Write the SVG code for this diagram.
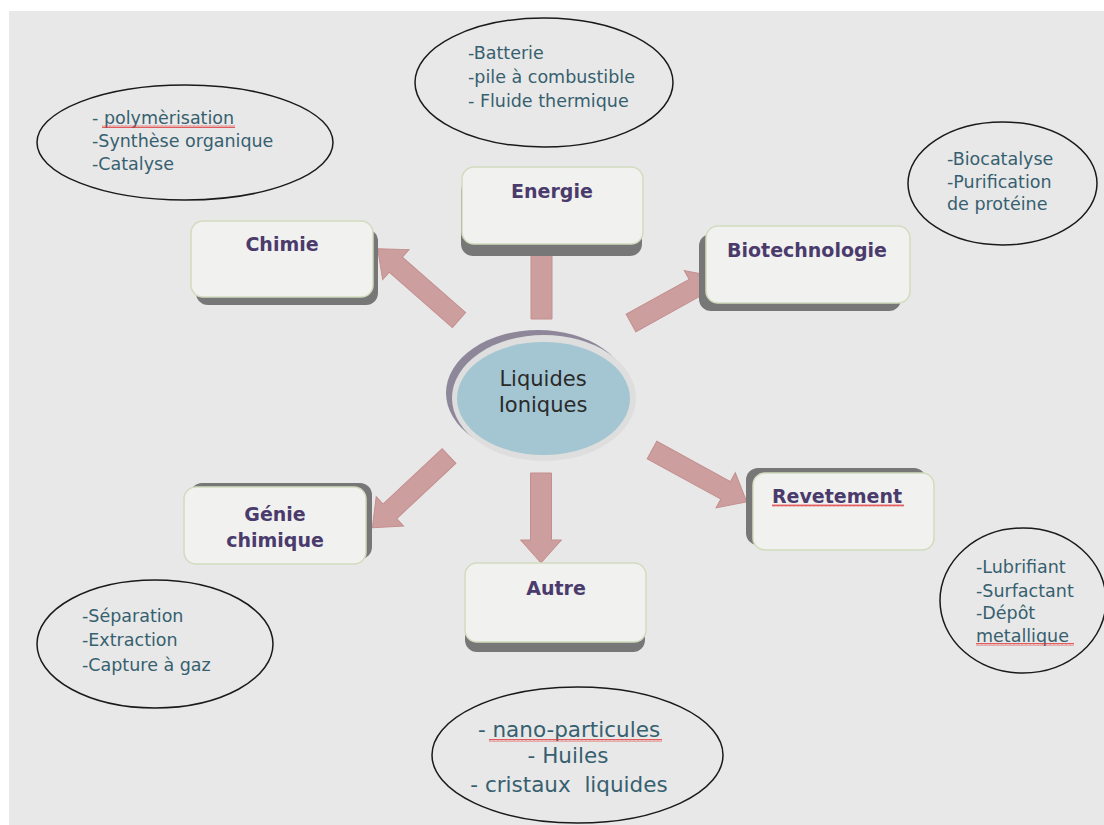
<svg xmlns="http://www.w3.org/2000/svg" width="1104" height="825" viewBox="0 0 1104 825">
<defs>
<style>
.bg{fill:#e8e8e8}
.box{fill:#f1f1f0;stroke:#d2dbbd;stroke-width:1.5}
.shd{fill:#777777}
.lbl{font-family:"DejaVu Sans",sans-serif;font-weight:bold;font-size:19px;fill:#4a3b6c;text-anchor:middle}
.oval{fill:none;stroke:#1a1a1a;stroke-width:1.5}
.note{font-family:"DejaVu Sans",sans-serif;font-size:17.5px;fill:#36606f}
.big{font-family:"DejaVu Sans",sans-serif;font-size:21.5px;fill:#36606f;text-anchor:middle}
.arrow{fill:#cd9e9e;stroke:#c48e8f;stroke-width:1}
.wavy{fill:url(#wave)}
</style>
<pattern id="wave" width="4" height="3" patternUnits="userSpaceOnUse">
<path d="M0 2.5 L1 0.5 L2 2.5 L3 0.5 L4 2.5" fill="none" stroke="#e0383a" stroke-width="0.8"/>
</pattern>
</defs>
<rect width="1104" height="825" fill="#ffffff"/>
<rect class="bg" x="9" y="11" width="1095" height="814"/>

<g id="connectors">
<polygon class="arrow" transform="translate(459,320) rotate(-138.8)" points="0,-10 84,-10 84,-20 108,0 84,20 84,10 0,10"/>
<polygon class="arrow" transform="translate(541.5,319) rotate(-90)" points="0,-10.5 76,-10.5 76,-20.5 100,0 76,20.5 76,10.5 0,10.5"/>
<polygon class="arrow" transform="translate(631,323) rotate(-29)" points="0,-10 72,-10 72,-20 96,0 72,20 72,10 0,10"/>
<polygon class="arrow" transform="translate(652,450) rotate(28.7)" points="0,-10 84,-10 84,-20 108,0 84,20 84,10 0,10"/>
<polygon class="arrow" transform="translate(449,456) rotate(136.9)" points="0,-10 81,-10 81,-20 105,0 81,20 81,10 0,10"/>
<polygon class="arrow" transform="translate(541,473) rotate(90)" points="0,-10.5 67,-10.5 67,-20.5 90,0 67,20.5 67,10.5 0,10.5"/>
</g>

<g id="center">
<ellipse cx="538" cy="393" rx="92" ry="63" fill="#8e8799"/>
<ellipse cx="544" cy="398" rx="92" ry="63" fill="#dedede"/>
<ellipse cx="543.5" cy="398.5" rx="86.5" ry="56.5" fill="#a3c6d2"/>
<text x="543" y="386" font-family="DejaVu Sans, sans-serif" font-size="21" fill="#2a2a2a" text-anchor="middle">Liquides</text>
<text x="543" y="412" font-family="DejaVu Sans, sans-serif" font-size="21" fill="#2a2a2a" text-anchor="middle">Ioniques</text>
</g>

<g id="chimie">
<rect class="shd" x="196" y="229" width="182" height="76" rx="12"/>
<rect class="box" x="191" y="221" width="182" height="76" rx="12"/>
<text class="lbl" x="282" y="251">Chimie</text>
</g>

<g id="energie">
<rect class="shd" x="461" y="179" width="181" height="77" rx="12"/>
<rect class="box" x="462" y="167" width="181" height="77" rx="12"/>
<text class="lbl" x="552" y="198">Energie</text>
</g>

<g id="biotechnologie">
<rect class="shd" x="699" y="234" width="202" height="77" rx="12"/>
<rect class="box" x="706" y="226" width="204" height="77" rx="12"/>
<text class="lbl" x="807" y="257">Biotechnologie</text>
</g>

<g id="revetement">
<rect class="shd" x="746" y="468" width="180" height="77" rx="12"/>
<rect class="box" x="753" y="473" width="181" height="77" rx="12"/>
<text class="lbl" x="837" y="503">Revetement</text>
<rect class="wavy" x="772" y="504" width="132" height="3"/>
</g>

<g id="genie-chimique">
<rect class="shd" x="190" y="483" width="182" height="76" rx="12"/>
<rect class="box" x="184" y="487" width="182" height="77" rx="12"/>
<text class="lbl" x="275" y="521">Génie</text>
<text class="lbl" x="275" y="547">chimique</text>
</g>

<g id="autre">
<rect class="shd" x="465" y="575" width="180" height="77" rx="12"/>
<rect class="box" x="465" y="563" width="181" height="79" rx="12"/>
<text class="lbl" x="556" y="595">Autre</text>
</g>

<g id="note-chimie">
<ellipse class="oval" cx="185" cy="142.5" rx="148" ry="57.5"/>
<text class="note" x="92" y="124">- polymèrisation</text>
<text class="note" x="92" y="147">-Synthèse organique</text>
<text class="note" x="92" y="170">-Catalyse</text>
<rect class="wavy" x="102" y="125" width="133" height="3"/>
</g>

<g id="note-energie">
<ellipse class="oval" cx="544" cy="82.5" rx="129" ry="64.5"/>
<text class="note" x="468" y="59">-Batterie</text>
<text class="note" x="468" y="83">-pile à combustible</text>
<text class="note" x="468" y="107">- Fluide thermique</text>
</g>

<g id="note-biotechnologie">
<ellipse class="oval" cx="1002.5" cy="183.5" rx="94.5" ry="61.5"/>
<text class="note" x="947" y="165">-Biocatalyse</text>
<text class="note" x="947" y="188">-Purification</text>
<text class="note" x="947" y="210">de protéine</text>
</g>

<g id="note-revetement">
<ellipse class="oval" cx="1023" cy="600.5" rx="83" ry="72.5"/>
<text class="note" x="976" y="573">-Lubrifiant</text>
<text class="note" x="976" y="597">-Surfactant</text>
<text class="note" x="976" y="619">-Dépôt</text>
<text class="note" x="976" y="642">metallique</text>
<rect class="wavy" x="976" y="643" width="98" height="3"/>
</g>

<g id="note-genie">
<ellipse class="oval" cx="155" cy="644" rx="118" ry="64"/>
<text class="note" x="82" y="622">-Séparation</text>
<text class="note" x="82" y="646">-Extraction</text>
<text class="note" x="82" y="671">-Capture à gaz</text>
</g>

<g id="note-autre">
<ellipse class="oval" cx="577.5" cy="755" rx="145.5" ry="68"/>
<text class="big" x="569" y="737">- nano-particules</text>
<text class="big" x="568" y="763">- Huiles</text>
<text class="big" x="569" y="792" xml:space="preserve">- cristaux  liquides</text>
<rect class="wavy" x="489" y="739" width="173" height="3"/>
</g>
</svg>
